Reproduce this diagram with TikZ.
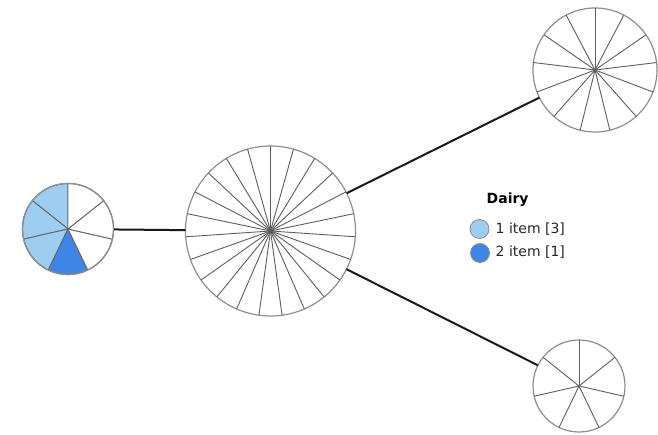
\documentclass[tikz,border=0pt]{standalone}
\usepackage{fontspec}
\setmainfont{DejaVu Sans}
\definecolor{lightslice}{HTML}{9DCDF0}
\definecolor{darkslice}{HTML}{3E85E5}
\definecolor{rim}{HTML}{8E8E8E}
\definecolor{spokegray}{HTML}{5E5E5E}

\begin{document}
\begin{tikzpicture}[x=1pt,y=1pt,
  pie/.style={circle, draw=rim, line width=1.2pt, fill=white, inner sep=0pt, outer sep=0pt},
  spoke/.style={draw=spokegray, line width=0.9pt},
  link/.style={draw=black!90, line width=2pt},
  slice/.style={draw=black!60, line width=0.9pt},
  key/.style={circle, draw=rim, line width=0.8pt, minimum size=19pt, inner sep=0pt},
  keytext/.style={anchor=base west, font=\fontsize{14}{16}\selectfont, inner sep=0pt, text=black!85}
]
\useasboundingbox (0,0) rectangle (658,-435);
\fill[white] (0,0) rectangle (658,-435);

% pie nodes
\node[pie, minimum size=91pt]  (dairy)  at (68,-229)  {};
\node[pie, minimum size=170pt] (hub)    at (270.5,-231) {};
\node[pie, minimum size=124pt] (upper)  at (595,-70)  {};
\node[pie, minimum size=92pt]  (lower)  at (579,-386) {};

% connectors
\draw[link] (dairy) -- (hub);
\draw[link] (hub) -- (upper);
\draw[link] (hub) -- (lower);

% spokes: equal slices, clockwise from the top
\foreach \k [evaluate=\k as \a using 90-\k*360/23] in {0,...,22}
  \draw[spoke] (hub.center) -- +(\a:85);
\foreach \k [evaluate=\k as \a using 90-\k*360/13] in {0,...,12}
  \draw[spoke] (upper.center) -- +(\a:62);
\foreach \k [evaluate=\k as \a using 90-\k*360/7] in {0,...,6}
  \draw[spoke] (lower.center) -- +(\a:46);

% coloured pie: seven slices, counter-clockwise from the top
\foreach \k/\c in {0/lightslice,1/lightslice,2/lightslice,3/darkslice,4/white,5/white,6/white}{
  \pgfmathsetmacro\sa{90+\k*360/7}
  \pgfmathsetmacro\ea{90+(\k+1)*360/7}
  \filldraw[slice, fill=\c] (dairy.center) -- +(\sa:45.5) arc[start angle=\sa, end angle=\ea, radius=45.5pt] -- cycle;
}
\draw[draw=rim, line width=1.2pt] (dairy.center) circle[radius=45.5pt];

% legend
\node[anchor=base west, inner sep=0pt, font=\bfseries\fontsize{14}{16}\selectfont] (ltitle) at (486.5,-203.5) {Dairy};
\node[key, fill=lightslice] (k1) at (479.5,-229) {};
\node[key, fill=darkslice]  (k2) at (480,-253) {};
\node[keytext] (t1) at (495.5,-233.5) {1 item [3]};
\node[keytext] (t2) at (495.5,-256.5) {2 item [1]};
\end{tikzpicture}
\end{document}
